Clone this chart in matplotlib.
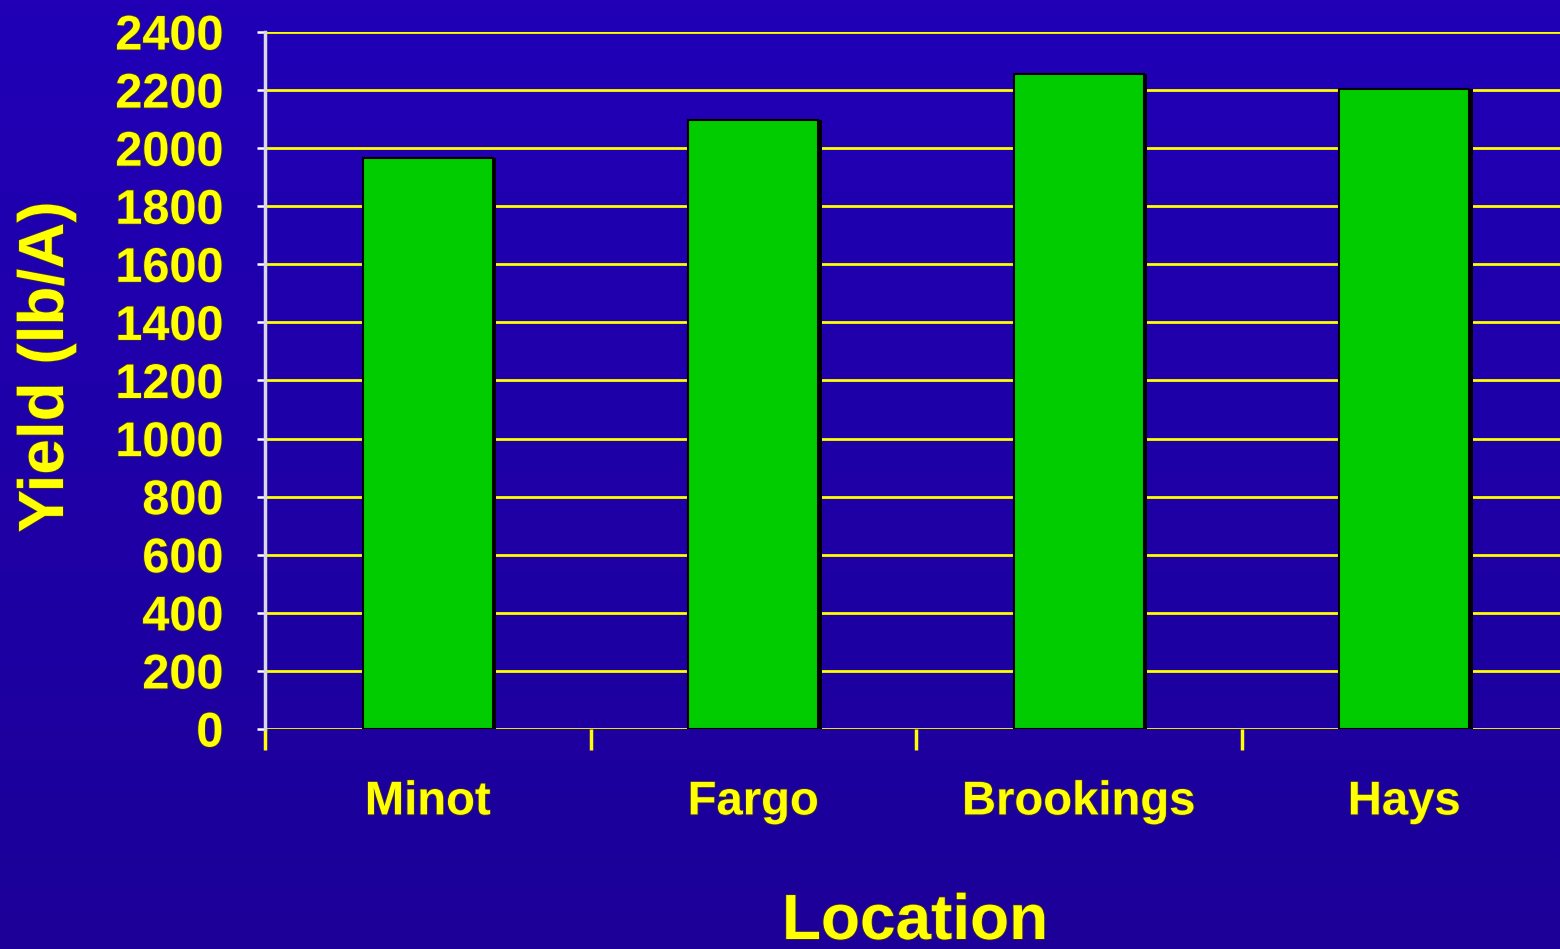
import matplotlib
matplotlib.use("Agg")
import matplotlib.pyplot as plt
import matplotlib.patheffects as pe
import numpy as np

# values
locations = ["Minot", "Fargo", "Brookings", "Hays"]
yield_lb_per_acre = [1966, 2097, 2255, 2204]
y_ticks = list(range(0, 2401, 200))

YELLOW = "#FFFF00"
GREEN = "#00CC00"

plt.rcParams["font.family"] = ["Liberation Sans", "DejaVu Sans"]

fig = plt.figure(figsize=(15.6, 9.49), dpi=100)

# slide background: dark blue, a touch darker towards the bottom
bg = fig.add_axes([0, 0, 1, 1], zorder=-10)
grad = np.linspace(0, 1, 256).reshape(-1, 1)
bg_cmap = matplotlib.colors.LinearSegmentedColormap.from_list("slide", ["#2100B6", "#1C0098"])
bg.imshow(grad, aspect="auto", cmap=bg_cmap, extent=[0, 1, 0, 1], origin="upper")
bg.set_axis_off()

ax = fig.add_axes([265 / 1560, 1 - 729 / 949, 1302 / 1560, 697 / 949])
ax.set_facecolor("none")

x = np.arange(len(locations)) + 0.5
bars = ax.bar(x, yield_lb_per_acre, width=0.4, color=GREEN, edgecolor="black",
              linewidth=1.5, zorder=3)
for b in bars:
    b.set_path_effects([pe.SimplePatchShadow(offset=(2.5, 0), shadow_rgbFace="black", alpha=1.0),
                        pe.Normal()])

ax.set_xlim(0, len(locations))
ax.set_ylim(0, 2400)

ax.set_yticks(y_ticks)
ax.yaxis.grid(True, color=YELLOW, linewidth=2, zorder=0)
ax.set_axisbelow(True)

text_fx = [pe.withStroke(linewidth=1.2, foreground="#3a2a40")]
ax.set_yticklabels([str(v) for v in y_ticks], fontsize=35, fontweight="bold",
                   color=YELLOW, path_effects=text_fx)
ax.tick_params(axis="y", direction="out", length=6, width=1.8, color="white", pad=24)

ax.set_xticks(x)
ax.set_xticklabels(locations, fontsize=34, fontweight="bold", color=YELLOW,
                   path_effects=text_fx)
ax.tick_params(axis="x", which="major", length=0, pad=37)
ax.set_xticks(np.arange(len(locations) + 1), minor=True)
ax.tick_params(axis="x", which="minor", direction="out", length=15, width=2.5, color=YELLOW)

for side in ["top", "right", "bottom"]:
    ax.spines[side].set_visible(False)
ax.spines["left"].set_color("#D8D8E8")
ax.spines["left"].set_linewidth(2.5)

fig.text(915 / 1560, 1 - 922 / 949, "Location", fontsize=46, fontweight="bold",
         color=YELLOW, ha="center", va="center", path_effects=text_fx)
fig.text(46 / 1560, 1 - 367 / 949, "Yield (lb/A)", fontsize=46, fontweight="bold",
         color=YELLOW, ha="center", va="center", rotation=90, path_effects=text_fx)

fig.savefig("out.png", dpi=100)
